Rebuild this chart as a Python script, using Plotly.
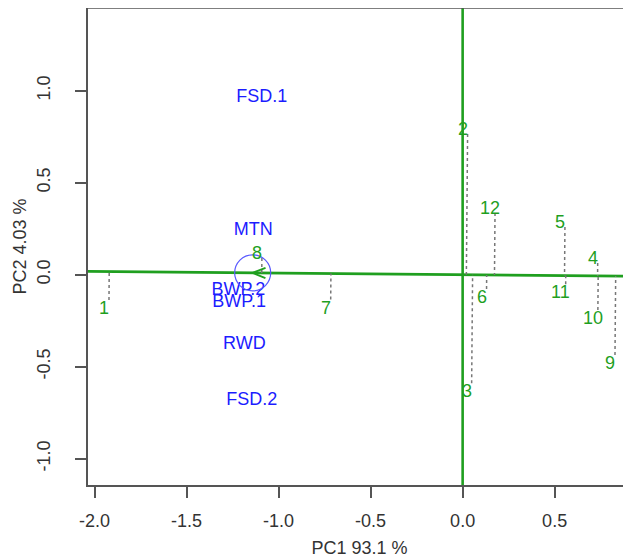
import numpy as np
import plotly.graph_objects as go

# ---- data ----
genotypes = ["1", "2", "3", "4", "5", "6", "7", "8", "9", "10", "11", "12"]
gen_pc1 = [-1.922, 0.027, 0.049, 0.734, 0.556, 0.130, -0.717, -1.091, 0.828, 0.735, 0.560, 0.176]
gen_pc2 = [-0.137, 0.765, -0.590, 0.064, 0.259, -0.078, -0.135, 0.091, -0.436, -0.192, -0.052, 0.335]

environments = ["FSD.1", "MTN", "BWP.2", "BWP.1", "RWD", "FSD.2"]
env_pc1 = [-1.092, -1.138, -1.219, -1.215, -1.186, -1.146]
env_pc2 = [0.962, 0.240, -0.088, -0.152, -0.382, -0.686]

avg_env = [-1.141, 0.010]   # average-environment coordinate (circle centre)
circle_r = 0.098

x_ticks = [-2.0, -1.5, -1.0, -0.5, 0.0, 0.5]
y_ticks = [-1.0, -0.5, 0.0, 0.5, 1.0]
x_title = "PC1 93.1 %"
y_title = "PC2 4.03 %"

GREEN = "#1f9f1f"
BLUE = "#1c1cff"
AXC = "#555555"
TXT = "#333333"
FONT = "Liberation Sans, Arial, sans-serif"
FS = 18

fig = go.Figure()

a = np.array(avg_env)
u = a / np.linalg.norm(a)

# ATA line (through origin and average environment)
t = np.array([-3.0, 3.0])
fig.add_trace(go.Scatter(x=(t * u[0]).tolist(), y=(t * u[1]).tolist(), mode="lines",
                         line=dict(color=GREEN, width=2.6), hoverinfo="skip", showlegend=False))
# vertical ordinate through origin
fig.add_trace(go.Scatter(x=[0, 0], y=[-3, 3], mode="lines",
                         line=dict(color=GREEN, width=2.6), hoverinfo="skip", showlegend=False))

# projection lines genotype -> ATA
px, py = [], []
for gx, gy in zip(gen_pc1, gen_pc2):
    g = np.array([gx, gy])
    p = np.dot(g, u) * u
    px += [gx, p[0], None]
    py += [gy, p[1], None]
fig.add_trace(go.Scatter(x=px, y=py, mode="lines",
                         line=dict(color="#777777", width=1.5, dash="dot"),
                         hoverinfo="skip", showlegend=False))

# arrowhead "<" at average environment
L = 0.075
ang = np.deg2rad(22)
back = -u
def rot(v, th):
    return np.array([v[0]*np.cos(th) - v[1]*np.sin(th), v[0]*np.sin(th) + v[1]*np.cos(th)])
tip = a
a1 = tip + L * rot(back, ang)
a2 = tip + L * rot(back, -ang)
fig.add_trace(go.Scatter(x=[a1[0], tip[0], a2[0]], y=[a1[1], tip[1], a2[1]], mode="lines",
                         line=dict(color=GREEN, width=1.8), hoverinfo="skip", showlegend=False))

# circle around average environment
fig.add_shape(type="circle", xref="x", yref="y",
              x0=a[0] - circle_r, x1=a[0] + circle_r, y0=a[1] - circle_r, y1=a[1] + circle_r,
              line=dict(color="#5a5aff", width=1.2))

# environment labels
fig.add_trace(go.Scatter(x=env_pc1, y=env_pc2, mode="text", text=environments,
                         textfont=dict(color=BLUE, size=FS, family=FONT),
                         hoverinfo="skip", showlegend=False))

# genotype labels
for name, gx, gy in zip(genotypes, gen_pc1, gen_pc2):
    above = (gy - np.dot([gx, gy], u) * u[1]) >= 0
    fig.add_annotation(x=gx, y=gy, text=name, showarrow=False, xshift=-5,
                       yshift=5 if above else -8,
                       font=dict(color=GREEN, size=FS, family=FONT))

# top border line
fig.add_shape(type="line", xref="paper", yref="paper", x0=0, x1=1, y0=1, y1=1,
              line=dict(color=AXC, width=1.5))

fig.update_layout(
    width=631, height=560,
    margin=dict(l=80, r=8, t=0, b=83, autoexpand=False),
    plot_bgcolor="white", paper_bgcolor="white",
    font=dict(family=FONT, size=FS, color=TXT),
    showlegend=False,
)
fig.update_xaxes(range=[-2.036, 0.915], tickvals=x_ticks, ticktext=[f"{v:.1f}" for v in x_ticks],
                 automargin=False,
                 showgrid=False, zeroline=False, showline=True, linecolor=AXC, linewidth=1.5,
                 ticks="outside", ticklen=11, tickcolor=AXC, tickwidth=1.5,
                 ticklabelstandoff=8,
                 tickfont=dict(size=FS, color=TXT),
                 title=dict(text=x_title, standoff=11, font=dict(size=FS, color=TXT)))
fig.update_yaxes(range=[-1.143, 1.4495], tickvals=y_ticks, ticktext=[f"{v:.1f}" for v in y_ticks],
                 automargin=False,
                 showgrid=False, zeroline=False, showline=True, linecolor=AXC, linewidth=1.5,
                 ticks="outside", ticklen=11, tickcolor=AXC, tickwidth=1.5, tickangle=-90,
                 ticklabelstandoff=18,
                 tickfont=dict(size=FS, color=TXT),
                 title=dict(text=y_title, standoff=3, font=dict(size=FS, color=TXT)))

fig.write_html("out.html")
